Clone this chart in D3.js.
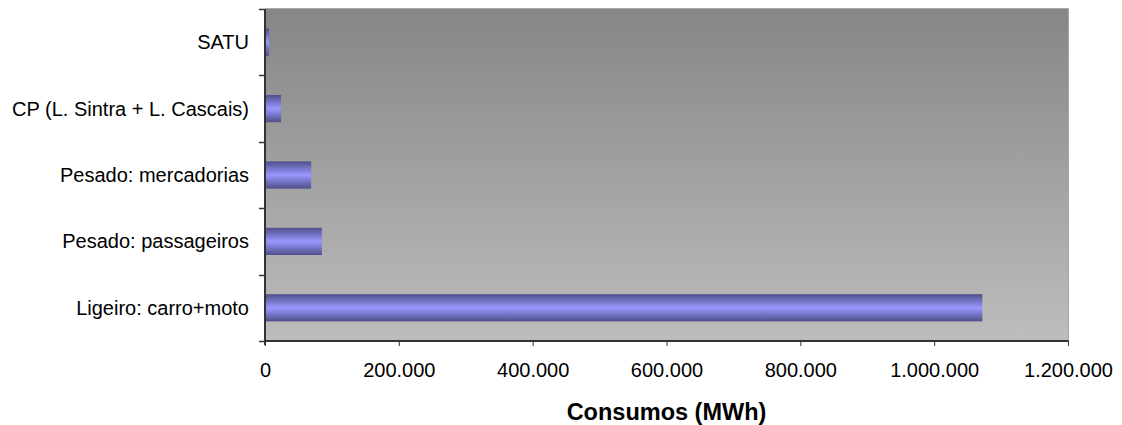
<!DOCTYPE html>
<html>
<head>
<meta charset="utf-8">
<script src="https://cdn.jsdelivr.net/npm/d3@7"></script>
<style>
  html, body { margin: 0; padding: 0; background: #fff; }
  svg { display: block; }
  text { font-family: "Liberation Sans", Arial, sans-serif; fill: #000; }
</style>
</head>
<body>
<svg id="chart" width="1122" height="425"></svg>
<script>
// Energy consumption by transport mode (MWh)
const categories = [
  "SATU",
  "CP (L. Sintra + L. Cascais)",
  "Pesado: mercadorias",
  "Pesado: passageiros",
  "Ligeiro: carro+moto"
];
const consumos = [6000, 24000, 69000, 85000, 1072000];
const xTicks = [0, 200000, 400000, 600000, 800000, 1000000, 1200000];
const xTitle = "Consumos (MWh)";

const svg = d3.select("#chart");
const margin = { left: 265, right: 1068, top: 9, bottom: 341 };

const x = d3.scaleLinear().domain([0, 1200000]).range([margin.left, margin.right]);
const y = d3.scaleBand().domain(categories).range([margin.top, margin.bottom])
  .paddingInner(0.59).paddingOuter(0.295);
const yTicks = d3.scaleBand().domain(categories).range([margin.top, margin.bottom]);

const defs = svg.append("defs");
const bg = defs.append("linearGradient").attr("id", "bgGrad")
  .attr("x1", 0).attr("y1", 0).attr("x2", 0).attr("y2", 1);
bg.append("stop").attr("offset", "0%").attr("stop-color", "#868686");
bg.append("stop").attr("offset", "100%").attr("stop-color", "#bdbdbd");

const barGrad = defs.append("linearGradient").attr("id", "barGrad")
  .attr("x1", 0).attr("y1", 0).attr("x2", 0).attr("y2", 1);
barGrad.append("stop").attr("offset", "0%").attr("stop-color", "#4f4f8a");
barGrad.append("stop").attr("offset", "50%").attr("stop-color", "#9898ff");
barGrad.append("stop").attr("offset", "100%").attr("stop-color", "#4f4f8a");

// plot area
svg.append("rect")
  .attr("x", margin.left).attr("y", margin.top)
  .attr("width", margin.right - margin.left).attr("height", margin.bottom - margin.top)
  .attr("fill", "url(#bgGrad)");
// light frame on top and right
svg.append("path")
  .attr("d", `M${margin.left},${margin.top - 0.5}H${margin.right + 0.5}V${margin.bottom}`)
  .attr("fill", "none").attr("stroke", "#a6a6a6").attr("stroke-width", 1);

// bars
svg.append("g").selectAll("rect").data(categories).join("rect")
  .attr("x", x(0))
  .attr("y", d => y(d))
  .attr("width", (d, i) => x(consumos[i]) - x(0))
  .attr("height", y.bandwidth())
  .attr("fill", "url(#barGrad)");

// x axis
const xAxis = d3.axisBottom(x).tickValues(xTicks).tickSize(5).tickPadding(17)
  .tickFormat(d => d3.format(",")(d).replace(/,/g, "."));
const gx = svg.append("g").attr("transform", `translate(0,${margin.bottom})`).call(xAxis);
gx.select(".domain").attr("stroke", "#333").attr("stroke-width", 2)
  .attr("d", `M${margin.left - 1},0H${margin.right + 0.5}`);
gx.selectAll(".tick line").attr("stroke", "#333").attr("stroke-width", 1);
gx.selectAll(".tick text").attr("font-size", 20).attr("fill", "#000")
  .attr("dy", null).attr("y", 36)
  .style("font-family", "'Liberation Sans', Arial, sans-serif");

// y axis: ticks at band boundaries, labels at band centres
const gy = svg.append("g");
gy.append("line")
  .attr("x1", margin.left).attr("x2", margin.left)
  .attr("y1", margin.top).attr("y2", margin.bottom + 4)
  .attr("stroke", "#333").attr("stroke-width", 2);
const bounds = categories.map(c => yTicks(c)).concat([margin.bottom]);
gy.selectAll("line.tk").data(bounds).join("line").attr("class", "tk")
  .attr("x1", margin.left - 6).attr("x2", margin.left)
  .attr("y1", d => Math.round(d) + 0.5).attr("y2", d => Math.round(d) + 0.5)
  .attr("stroke", "#333").attr("stroke-width", 1.5);
gy.selectAll("text").data(categories).join("text")
  .attr("x", 249)
  .attr("y", d => yTicks(d) + yTicks.bandwidth() / 2)
  .attr("dy", "0.35em")
  .attr("text-anchor", "end")
  .attr("font-size", 20)
  .text(d => d);

// axis title
svg.append("text")
  .attr("x", (margin.left + margin.right) / 2)
  .attr("y", 420)
  .attr("text-anchor", "middle")
  .attr("font-size", 23.5)
  .attr("font-weight", "bold")
  .text(xTitle);
</script>
</body>
</html>
